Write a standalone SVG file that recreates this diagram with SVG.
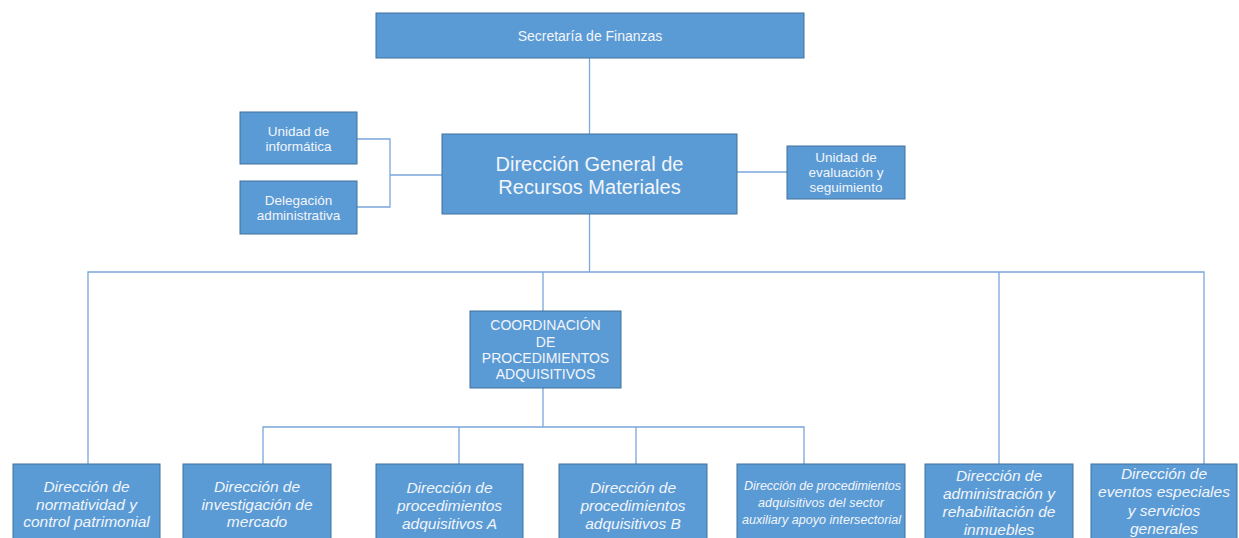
<svg xmlns="http://www.w3.org/2000/svg" width="1239" height="538" viewBox="0 0 1239 538">
<style>
.box{fill:#5b9bd5;stroke:#41719c;stroke-width:1}
.t{font-family:"Liberation Sans",Arial,sans-serif;fill:#f2f5fa;text-anchor:middle}
.s14{font-size:14px}
.s13{font-size:13.5px}
.s20{font-size:20px}
.c14{font-size:14px}
.it{font-size:15.5px;font-style:italic}
.sm{font-family:"Liberation Sans",Arial,sans-serif;fill:#f2f5fa;font-size:12.5px;font-style:italic}
.ln{fill:none;stroke:#7aa7dc;stroke-width:1.3}
</style>
<rect width="1239" height="538" fill="#ffffff"/>
<g id="connectors">
<path class="ln" d="M589.5 58V134"/>
<path class="ln" d="M357 139H390V207H357M390 175H442"/>
<path class="ln" d="M737 172H787"/>
<path class="ln" d="M589.5 214V272"/>
<path class="ln" d="M88 464V272H1204V464M543 272V311M999 272V464"/>
<path class="ln" d="M543 388V427M263 464V427H804V464M459 427V464M636 427V464"/>
</g>
<g id="secretaria"><rect class="box" x="376" y="13" width="428" height="45"/><text class="t s14" x="590" y="41">Secretaría de Finanzas</text></g>
<g id="informatica"><rect class="box" x="240" y="112" width="117" height="52"/><text class="t s13"><tspan x="298.5" y="136">Unidad de</tspan><tspan x="298.5" y="151">informática</tspan></text></g>
<g id="delegacion"><rect class="box" x="240" y="181" width="117" height="53"/><text class="t s13"><tspan x="298.5" y="205">Delegación</tspan><tspan x="298.5" y="220">administrativa</tspan></text></g>
<g id="dgrm"><rect class="box" x="442" y="134" width="295" height="80"/><text class="t s20"><tspan x="589.5" y="171">Dirección General de</tspan><tspan x="589.5" y="194">Recursos Materiales</tspan></text></g>
<g id="evaluacion"><rect class="box" x="787" y="146" width="118" height="53"/><text class="t s13"><tspan x="846" y="162">Unidad de</tspan><tspan x="846" y="177">evaluación y</tspan><tspan x="846" y="192">seguimiento</tspan></text></g>
<g id="coordinacion"><rect class="box" x="470" y="311" width="151" height="77"/><text class="t c14"><tspan x="545.5" y="330">COORDINACIÓN</tspan><tspan x="545.5" y="347">DE</tspan><tspan x="545.5" y="363">PROCEDIMIENTOS</tspan><tspan x="545.5" y="379">ADQUISITIVOS</tspan></text></g>
<g id="normatividad"><rect class="box" x="13" y="464" width="147" height="80"/><text class="t it"><tspan x="86.5" y="492">Dirección de</tspan><tspan x="86.5" y="510">normatividad y</tspan><tspan x="86.5" y="527">control patrimonial</tspan></text></g>
<g id="investigacion"><rect class="box" x="183" y="464" width="148" height="80"/><text class="t it"><tspan x="257" y="492">Dirección de</tspan><tspan x="257" y="510">investigación de</tspan><tspan x="257" y="527">mercado</tspan></text></g>
<g id="procA"><rect class="box" x="376" y="464" width="147" height="80"/><text class="t it"><tspan x="449.5" y="493">Dirección de</tspan><tspan x="449.5" y="511">procedimientos</tspan><tspan x="449.5" y="529">adquisitivos A</tspan></text></g>
<g id="procB"><rect class="box" x="559" y="464" width="148" height="80"/><text class="t it"><tspan x="633" y="493">Dirección de</tspan><tspan x="633" y="511">procedimientos</tspan><tspan x="633" y="529">adquisitivos B</tspan></text></g>
<g id="sector"><rect class="box" x="737" y="464" width="168" height="80"/>
<text class="sm" x="744" y="490" textLength="157" lengthAdjust="spacing">Dirección de procedimientos</text>
<text class="sm" x="758" y="507" textLength="126" lengthAdjust="spacing">adquisitivos del sector</text>
<text class="sm" x="742" y="524" textLength="159" lengthAdjust="spacing">auxiliary apoyo intersectorial</text></g>
<g id="inmuebles"><rect class="box" x="925" y="464" width="148" height="80"/><text class="t it"><tspan x="999" y="481">Dirección de</tspan><tspan x="999" y="499">administración y</tspan><tspan x="999" y="517">rehabilitación de</tspan><tspan x="999" y="535">inmuebles</tspan></text></g>
<g id="eventos"><rect class="box" x="1091" y="464" width="146" height="80"/><text class="t it"><tspan x="1164" y="479">Dirección de</tspan><tspan x="1164" y="497">eventos especiales</tspan><tspan x="1164" y="516">y servicios</tspan><tspan x="1164" y="534">generales</tspan></text></g>
</svg>
